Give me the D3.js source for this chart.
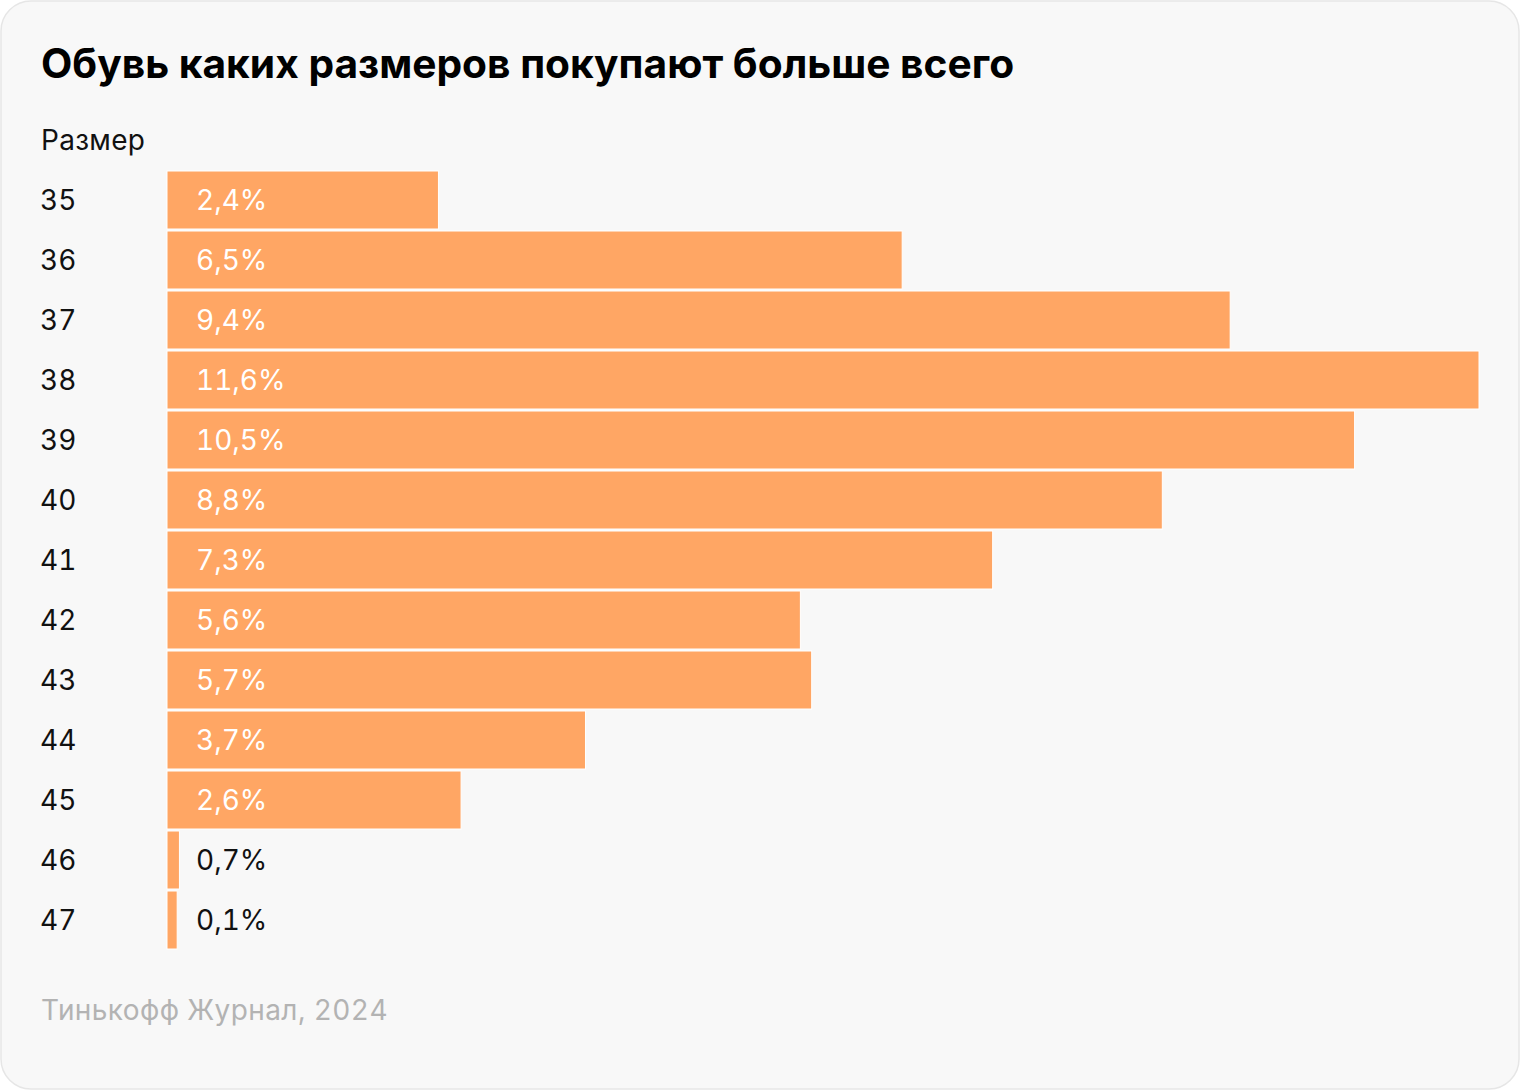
<!DOCTYPE html>
<html>
<head>
<meta charset="utf-8">
<script src="https://cdn.jsdelivr.net/npm/d3@7"></script>
<style>
  html, body { margin: 0; padding: 0; background: #ffffff; }
  svg { display: block; }
  text { font-family: Inter, Roboto, "Noto Sans", sans-serif; font-variant-numeric: tabular-nums; font-feature-settings: "tnum" 1; }
  .title { font-feature-settings: normal; font-variant-numeric: normal; }
</style>
</head>
<body>
<svg id="chart" width="1520" height="1090"></svg>
<script>
const title = "Обувь каких размеров покупают больше всего";
const axisTitle = "Размер";
const source = "Тинькофф Журнал, 2024";
const sizes = ["35", "36", "37", "38", "39", "40", "41", "42", "43", "44", "45", "46", "47"];
// bar lengths as drawn in the reference (percent)
const values = [2.4, 6.5, 9.4, 11.6, 10.5, 8.8, 7.3, 5.6, 5.7, 3.7, 2.6, 0.11, 0.09];
// printed labels
const valueLabels = ["2,4%", "6,5%", "9,4%", "11,6%", "10,5%", "8,8%", "7,3%", "5,6%", "5,7%", "3,7%", "2,6%", "0,7%", "0,1%"];

const svg = d3.select("#chart");

svg.append("rect")
  .attr("x", 1).attr("y", 1).attr("width", 1518).attr("height", 1088)
  .attr("rx", 30).attr("ry", 30)
  .attr("fill", "#f8f8f8").attr("stroke", "#e6e6e6").attr("stroke-width", 1.5);

svg.append("text")
  .attr("class", "title")
  .attr("x", 41).attr("y", 78)
  .attr("font-size", 40.7).attr("font-weight", 700).attr("fill", "#000")
  .text(title);

svg.append("text")
  .attr("x", 41).attr("y", 150)
  .attr("font-size", 28).attr("letter-spacing", 0.3).attr("fill", "#111")
  .text(axisTitle);

const x = d3.scaleLinear().domain([0, 11.6]).range([167, 1479]);
const y = d3.scaleBand().domain(sizes).range([170, 950]).paddingInner(2 / 60).paddingOuter(1 / 60);

const rows = svg.append("g").selectAll("g").data(sizes).join("g");

rows.append("rect")
  .attr("x", x(0))
  .attr("y", d => y(d))
  .attr("width", (d, i) => x(values[i]) - x(0))
  .attr("height", y.bandwidth())
  .attr("fill", "#ffa664")
  .attr("stroke", "#ffffff").attr("stroke-width", 1);

rows.append("text")
  .attr("x", 40)
  .attr("y", d => y(d) + y.bandwidth() / 2)
  .attr("dy", "0.36em")
  .attr("font-size", 28).attr("letter-spacing", 0.2).attr("fill", "#111")
  .text(d => d);

rows.append("text")
  .attr("x", 196)
  .attr("y", d => y(d) + y.bandwidth() / 2)
  .attr("dy", "0.36em")
  .attr("font-size", 28).attr("letter-spacing", 0)
  .attr("fill", (d, i) => (x(values[i]) - x(0)) > 60 ? "#ffffff" : "#111")
  .text((d, i) => valueLabels[i]);

svg.append("text")
  .attr("x", 41).attr("y", 1020)
  .attr("font-size", 28).attr("letter-spacing", 0.4).attr("fill", "#b3b3b3")
  .text(source);
</script>
</body>
</html>
